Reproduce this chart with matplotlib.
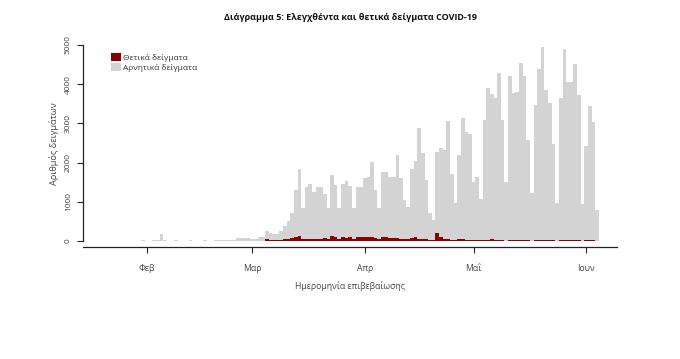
import datetime as dt
import numpy as np
import matplotlib
matplotlib.use("Agg")
import matplotlib.pyplot as plt
import matplotlib.dates as mdates
from matplotlib.patches import Patch

plt.rcParams['font.family'] = ['Open Sans', 'DejaVu Sans']

# ---- data (daily, 2020-01-26 .. 2020-06-04) ----
start_date = "2020-01-26"

tested = [
    # Jan 26-31
    5, 8, 10, 12, 10, 15,
    # Feb 1-3, 4, 5
    12, 10, 15, 20, 190,
    # Feb 6-25
    15, 10, 12, 15, 10, 8, 12, 15, 10, 12, 10, 15, 12, 10, 15, 20, 15, 25, 20, 30,
    # Feb 26 - Mar 4
    80, 85, 80, 70, 50, 60, 95, 100,
    # Mar 5-14
    255, 200, 185, 180, 250, 370, 500, 710, 1290, 1830,
    # Mar 15 - Apr 2
    830, 1390, 1450, 1260, 1370, 1370, 1200, 830, 1680, 1430, 830, 1450, 1540,
    1400, 850, 1386, 1386, 1600, 1640,
    # Apr 3 - Apr 21
    2024, 1301, 834, 1768, 1768, 1624, 1624, 2194, 1599, 1046, 876, 1837, 2049,
    2874, 2253, 1556, 706, 536, 2279,
    # Apr 22 - May 3
    2364, 2330, 3070, 1720, 980, 2200, 3150, 2780, 2740, 1500, 1624, 1080,
    # May 4-10
    3087, 3895, 3742, 3640, 4294, 3087, 1514,
    # May 11-17
    4217, 3767, 3790, 4549, 4200, 2576, 1216,
    # May 18-24
    3469, 4379, 4940, 3850, 3512, 2480, 961,
    # May 25-31
    3650, 4889, 4050, 4050, 4525, 3724, 940,
    # Jun 1-4
    2415, 3440, 3044, 791,
]

positive = [0] * 31 + [
    # Feb 26 - Mar 4
    1, 2, 0, 4, 0, 5, 2, 3,
    # Mar 5-14
    40, 25, 25, 20, 25, 40, 60, 70, 100, 125,
    # Mar 15 - Apr 2
    60, 60, 55, 60, 60, 55, 70, 60, 120, 100, 55, 90, 85, 95, 60, 95, 90, 100, 95,
    # Apr 3 - Apr 21
    110, 80, 60, 95, 90, 75, 85, 70, 60, 40, 45, 65, 90, 60, 50, 40, 25, 30, 210,
    # Apr 22 - May 3
    110, 60, 55, 35, 20, 45, 40, 30, 35, 20, 25, 15,
    # May 4-10
    20, 25, 45, 30, 20, 25, 10,
    # May 11-17
    20, 25, 30, 20, 25, 20, 10,
    # May 18-24
    20, 15, 25, 35, 20, 15, 10,
    # May 25-31
    15, 25, 20, 15, 20, 25, 10,
    # Jun 1-4
    15, 20, 25, 5,
]

month_ticks = ["2020-02-01", "2020-03-01", "2020-04-01", "2020-05-01", "2020-06-01"]
month_labels = ["Φεβ", "Μαρ", "Απρ", "Μαΐ", "Ιουν"]
y_ticks = [0, 1000, 2000, 3000, 4000, 5000]

title = "Διάγραμμα 5: Ελεγχθέντα και θετικά δείγματα COVID-19"
xlabel = "Ημερομηνία επιβεβαίωσης"
ylabel = "Αριθμός δειγμάτων"
legend_labels = ["Θετικά δείγματα", "Αρνητικά δείγματα"]

# ---- plot ----
d0 = dt.date.fromisoformat(start_date)
dates = [d0 + dt.timedelta(days=i) for i in range(len(tested))]
x = mdates.date2num(dates)

W, H = 680, 359
fig = plt.figure(figsize=(W / 100, H / 100), dpi=100)
left_px, right_px, top_px, bot_px = 83, 617, 41, 247
ax = fig.add_axes([left_px / W, 1 - bot_px / H, (right_px - left_px) / W, (bot_px - top_px) / H])

grey = "#D3D3D3"
red = "#8B0000"
ax.bar(x, tested, width=1.0, color=grey, linewidth=0, zorder=1)
ax.bar(x, positive, width=1.0, color=red, linewidth=0, zorder=2)

feb1 = mdates.date2num(dt.date(2020, 2, 1))
ax.set_xlim(feb1 - 17.6, feb1 + 129.5)
ax.set_ylim(-153, 5102)

for s in ["top", "right"]:
    ax.spines[s].set_visible(False)
ax.spines["left"].set_bounds(0, 5000)
for s in ["left", "bottom"]:
    ax.spines[s].set_color("#222222")
    ax.spines[s].set_linewidth(0.9)

ax.set_yticks(y_ticks)
ax.set_yticklabels([str(v) for v in y_ticks], rotation=90, va="center",
                   fontsize=6, color="#444444")
ax.set_xticks(mdates.date2num([dt.date.fromisoformat(m) for m in month_ticks]))
ax.set_xticklabels(month_labels, fontsize=6.2, color="#444444")
ax.tick_params(axis="y", length=4, width=0.8, color="#222222", pad=4)
ax.tick_params(axis="x", length=4, width=0.8, color="#222222", pad=8)

ax.set_xlabel(xlabel, fontsize=6.2, color="#444444", labelpad=6)
ax.set_ylabel(ylabel, fontsize=6.6, color="#444444", labelpad=4)

fig.text(0.516, 1 - 18 / H, title, ha="center", va="center",
         fontsize=6.5, fontweight="bold", color="#111111")

handles = [Patch(facecolor=red, edgecolor="none"), Patch(facecolor=grey, edgecolor="none")]
ax.legend(handles, legend_labels, loc="upper left", bbox_to_anchor=(0.052, 0.94),
          frameon=False, fontsize=6, handlelength=1.2, handleheight=1.1,
          handletextpad=0.3, labelspacing=0.1, borderpad=0, borderaxespad=0,
          labelcolor="#333333")

fig.savefig("out.png", dpi=100)
